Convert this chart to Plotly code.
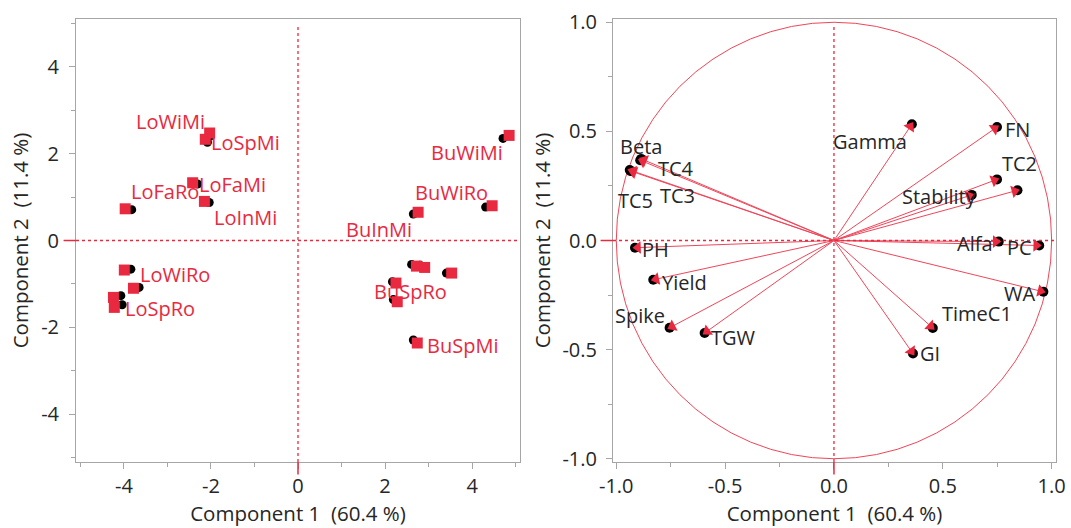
import math
import plotly.graph_objects as go

# ---------------- data: score plot ----------------
obs_labels = ["LoWiMi", "LoSpMi", "LoFaMi", "LoInMi", "LoFaRo", "LoWiRo", "", "", "LoSpRo",
              "BuWiMi", "BuWiRo", "BuInMi", "", "", "", "BuSpRo", "", "BuSpMi"]
sq_pc1 = [-2.13, -2.03, -2.42, -2.15, -3.97, -3.99, -3.78, -4.24, -4.22,
          4.85, 4.46, 2.76, 2.72, 2.91, 3.53, 2.25, 2.28, 2.74]
sq_pc2 = [2.33, 2.475, 1.33, 0.90, 0.73, -0.68, -1.10, -1.31, -1.54,
          2.42, 0.80, 0.65, -0.59, -0.62, -0.75, -0.98, -1.41, -2.36]
dot_pc1 = [-2.03, -2.08, -2.31, -2.04, -3.82, -3.84, -3.65, -4.07, -4.04,
           4.71, 4.31, 2.65, 2.61, 2.80, 3.41, 2.17, 2.19, 2.65]
dot_pc2 = [2.40, 2.26, 1.30, 0.875, 0.71, -0.66, -1.08, -1.27, -1.48,
           2.35, 0.77, 0.61, -0.55, -0.57, -0.75, -0.95, -1.36, -2.29]

# ---------------- data: loading plot ----------------
var_labels = ["Beta", "TC4", "TC5", "TC3", "PH", "Yield", "Spike", "TGW", "Gamma",
              "FN", "TC2", "", "Stability", "Alfa", "PC", "WA", "TimeC1", "GI"]
load_pc1 = [-0.885, -0.89, -0.938, -0.933, -0.914, -0.83, -0.755, -0.594, 0.358,
            0.749, 0.749, 0.843, 0.633, 0.757, 0.943, 0.962, 0.454, 0.363]
load_pc2 = [0.374, 0.368, 0.323, 0.318, -0.033, -0.18, -0.40, -0.424, 0.533,
            0.520, 0.280, 0.230, 0.209, -0.005, -0.023, -0.235, -0.401, -0.518]

# ---------------- tick labels ----------------
score_tickvals = [-4, -2, 0, 2, 4]
score_ticktext = ["-4", "-2", "0", "2", "4"]
load_tickvals = [-1.0, -0.5, 0.0, 0.5, 1.0]
load_ticktext = ["-1.0", "-0.5", "0.0", "0.5", "1.0"]
x_title = "Component 1  (60.4 %)"
y_title = "Component 2  (11.4 %)"

# ---------------- styling ----------------
RED = "#E8293F"
LINE_RED = "#F0465A"
AXIS_GREY = "#A6A6A6"
TXT = "#262626"
FONT = "Open Sans"
# label offsets in pixels (dx, dy) relative to their marker
obs_label_shift = [(-35, 18), (36, -9), (40, -2), (41, -16), (40, 17), (51, -4), (0, 0), (0, 0), (46, -1),
                   (-42, -17), (-41, 13), (-39, -17), (0, 0), (0, 0), (0, 0), (15, -8), (0, 0), (45, -2)]
var_label_shift = [(0, 12), (36, -8), (6, -30), (47, -24), (21, -2), (31, -3), (-30, 12), (29, -4),
                   (-42, -17), (20, -2), (22, 16), (0, 0), (-32, -2), (-24, -2), (-20, -2), (-24, -2),
                   (44, 15), (17, 0)]

fig = go.Figure()

# score plot
fig.add_trace(go.Scatter(x=dot_pc1, y=dot_pc2, mode="markers", xaxis="x", yaxis="y",
                         marker=dict(symbol="circle", size=9, color="black"), showlegend=False,
                         hoverinfo="skip"))
fig.add_trace(go.Scatter(x=sq_pc1, y=sq_pc2, mode="markers", xaxis="x", yaxis="y",
                         marker=dict(symbol="square", size=11, color=RED), showlegend=False,
                         text=obs_labels, hoverinfo="text"))

# loading plot: vectors from origin
vx, vy = [], []
for xv, yv in zip(load_pc1, load_pc2):
    vx += [0, xv, None]
    vy += [0, yv, None]
fig.add_trace(go.Scatter(x=vx, y=vy, mode="lines", xaxis="x2", yaxis="y2",
                         line=dict(color=LINE_RED, width=1), showlegend=False, hoverinfo="skip"))
fig.add_trace(go.Scatter(x=load_pc1, y=load_pc2, mode="markers", xaxis="x2", yaxis="y2",
                         marker=dict(symbol="circle", size=10, color="black"), showlegend=False,
                         text=var_labels, hoverinfo="text"))
head_angles = [math.degrees(math.atan2(xv, yv)) for xv, yv in zip(load_pc1, load_pc2)]
fig.add_trace(go.Scatter(x=load_pc1, y=load_pc2, mode="markers", xaxis="x2", yaxis="y2",
                         marker=dict(symbol="triangle-up", size=11, color=RED, angle=head_angles,
                                     standoff=3, line=dict(width=0)),
                         showlegend=False, hoverinfo="skip"))

annotations = []
for lab, xv, yv, (dx, dy) in zip(obs_labels, sq_pc1, sq_pc2, obs_label_shift):
    if lab:
        annotations.append(dict(x=xv, y=yv, xref="x", yref="y", text=lab, showarrow=False,
                                xshift=dx, yshift=dy, xanchor="center", yanchor="middle",
                                font=dict(family=FONT, size=20, color=RED)))
for lab, xv, yv, (dx, dy) in zip(var_labels, load_pc1, load_pc2, var_label_shift):
    if lab:
        annotations.append(dict(x=xv, y=yv, xref="x2", yref="y2", text=lab, showarrow=False,
                                xshift=dx, yshift=dy, xanchor="center", yanchor="middle",
                                font=dict(family=FONT, size=20, color=TXT)))

shapes = [
    dict(type="circle", xref="x2", yref="y2", x0=-1, y0=-1, x1=1, y1=1,
         line=dict(color=LINE_RED, width=1), layer="below"),
]
for xr, yr in (("x", "y"), ("x2", "y2")):
    shapes += [
        dict(type="line", xref=xr, yref=yr + " domain", x0=0, x1=0, y0=0, y1=0.985,
             line=dict(color=RED, width=1.3, dash="dot")),
        dict(type="line", xref=xr, yref=yr + " domain", x0=0, x1=0, y0=-0.028, y1=0,
             line=dict(color=RED, width=1.5)),
        dict(type="line", xref=xr + " domain", yref=yr, x0=0, x1=1, y0=0, y1=0,
             line=dict(color=RED, width=1.3, dash="dot")),
        dict(type="line", xref=xr + " domain", yref=yr, x0=-0.028, x1=0, y0=0, y1=0,
             line=dict(color=RED, width=1.5)),
    ]

axis_common = dict(showgrid=False, zeroline=False, showline=True, linecolor=AXIS_GREY, linewidth=1,
                   mirror=True, ticks="outside", ticklen=6, tickcolor=AXIS_GREY,
                   tickfont=dict(family=FONT, size=20, color=TXT),
                   title_font=dict(family=FONT, size=20.5, color=TXT), automargin=False)

fig.update_layout(
    width=1071, height=528, margin=dict(l=0, r=0, t=0, b=0),
    paper_bgcolor="white", plot_bgcolor="white",
    xaxis=dict(domain=[76 / 1071, 520 / 1071], range=[-5.1, 5.1], anchor="y",
               tickvals=score_tickvals, ticktext=score_ticktext,
               minor=dict(tickvals=[-5, -3, -1, 1, 3, 5], ticks="outside", ticklen=4, tickcolor=AXIS_GREY),
               title=dict(text=x_title, standoff=6), **axis_common),
    yaxis=dict(domain=[1 - 462 / 528, 1 - 19 / 528], range=[-5.1, 5.1], anchor="x",
               tickvals=score_tickvals, ticktext=score_ticktext, ticklabelstandoff=6,
               minor=dict(tickvals=[-5, -3, -1, 1, 3, 5], ticks="outside", ticklen=4, tickcolor=AXIS_GREY),
               title=dict(text=y_title, standoff=6), **axis_common),
    xaxis2=dict(domain=[613 / 1071, 1056 / 1071], range=[-1.015, 1.02], anchor="y2",
                tickvals=load_tickvals, ticktext=load_ticktext,
                minor=dict(tickvals=[-0.75, -0.25, 0.25, 0.75], ticks="outside", ticklen=4, tickcolor=AXIS_GREY),
                title=dict(text=x_title, standoff=6), **axis_common),
    yaxis2=dict(domain=[1 - 462 / 528, 1 - 19 / 528], range=[-1.015, 1.015], anchor="x2",
                tickvals=load_tickvals, ticktext=load_ticktext, ticklabelstandoff=5,
                minor=dict(tickvals=[-0.75, -0.25, 0.25, 0.75], ticks="outside", ticklen=4, tickcolor=AXIS_GREY),
                title=dict(text=y_title, standoff=6), **axis_common),
    annotations=annotations, shapes=shapes,
)

fig.write_html("out.html", config={"displayModeBar": False},
               post_script="document.body.style.margin='0px';document.body.style.overflow='hidden';")
